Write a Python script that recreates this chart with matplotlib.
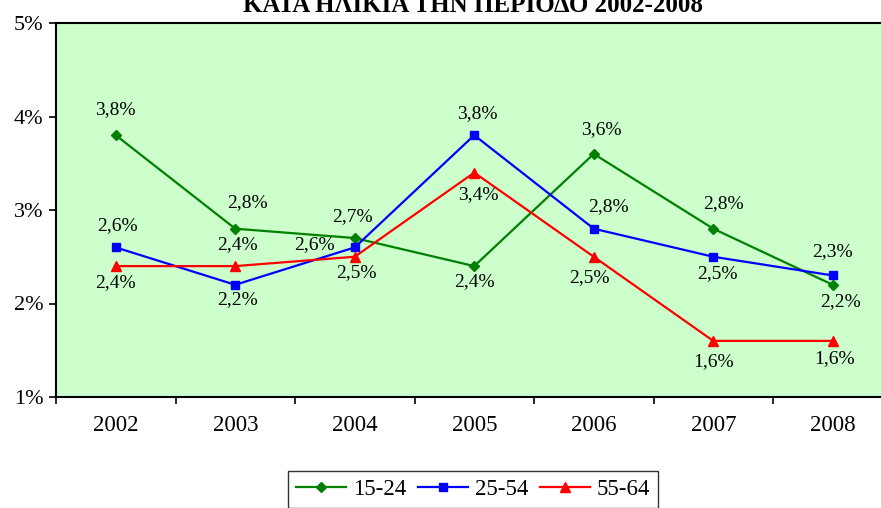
import matplotlib
matplotlib.use("Agg")
from matplotlib import pyplot as plt
from matplotlib.ticker import FixedLocator

# --- data ---
years = ["2002", "2003", "2004", "2005", "2006", "2007", "2008"]
series_names = ["15-24", "25-54", "55-64"]
young = [3.8, 2.8, 2.7, 2.4, 3.6, 2.8, 2.2]
middle = [2.6, 2.2, 2.6, 3.8, 2.8, 2.5, 2.3]
older = [2.4, 2.4, 2.5, 3.4, 2.5, 1.6, 1.6]
y_ticks = [1, 2, 3, 4, 5]
title = "ΚΑΤΑ ΗΛΙΚΙΑ ΤΗΝ ΠΕΡΙΟΔΟ 2002-2008"

# label offsets in pixels (dx, dy) relative to each point
young_off = [(0, 26), (12, 26), (-2, 21), (0, -15), (8, 24), (10, 25), (8, -17)]
middle_off = [(2, 22), (2, -15), (-40, 3), (3, 22), (15, 22), (4, -17), (0, 24)]
older_off = [(0, -16), (2, 22), (2, -16), (4, -22), (-4, -21), (0, -21), (2, -18)]

plt.rcParams["font.family"] = ["Liberation Serif", "DejaVu Serif"]

fig = plt.figure(figsize=(8.81, 5.08), dpi=100)
ax = fig.add_axes([56 / 881, 1 - 397 / 508, 836.5 / 881, 374 / 508])
ax.set_facecolor("#CCFFCC")

x = list(range(len(years)))
styles = [
    (young, "#008000", "D", 5.5, young_off),
    (middle, "#0000FF", "s", 5.5, middle_off),
    (older, "#FF0000", "^", 7, older_off),
]
for (vals, col, mk, ms, offs), name in zip(styles, series_names):
    ax.plot(x, vals, color=col, marker=mk, markersize=ms, linewidth=1.6,
            label=name, clip_on=False)
    for xi, v, (dx, dy) in zip(x, vals, offs):
        ax.annotate(f"{v:.1f}%".replace(".", ","), (xi, v),
                    xytext=(dx, dy), textcoords="offset pixels",
                    ha="center", va="center", fontsize=14, color="black")

ax.set_xlim(-0.5, len(years) - 0.5)
ax.set_ylim(1, 5)
ax.set_yticks(y_ticks)
ax.set_yticklabels([f"{t}%" for t in y_ticks], fontsize=16)

# category ticks between the years, labels centred on the years
ax.xaxis.set_major_locator(FixedLocator([i - 0.5 for i in range(len(years) + 1)]))
ax.set_xticklabels([])
ax.set_xticks(x, minor=True)
ax.set_xticklabels(years, minor=True, fontsize=16.5)
ax.tick_params(axis="x", which="major", length=5, width=1.2, direction="out")
ax.tick_params(axis="x", which="minor", length=0, pad=13)
ax.tick_params(axis="y", length=5, width=1.2, direction="out", pad=4)

for sp in ax.spines.values():
    sp.set_linewidth(1.5)
    sp.set_color("black")

# title sits partly above the top edge, as in the source picture
fig.text(0.537, 1 - 12 / 508, title, ha="center", va="baseline",
         fontsize=18, fontweight="bold")

leg = fig.legend(loc="upper center", bbox_to_anchor=(473 / 881, 1 - 471 / 508),
                 ncol=3, fontsize=16.5, frameon=True, fancybox=False,
                 edgecolor="black", handlelength=2.2, handletextpad=0.3,
                 columnspacing=0.5, borderpad=0.35, borderaxespad=0)
leg.get_frame().set_linewidth(1.0)

fig.savefig("out.png", dpi=100)
